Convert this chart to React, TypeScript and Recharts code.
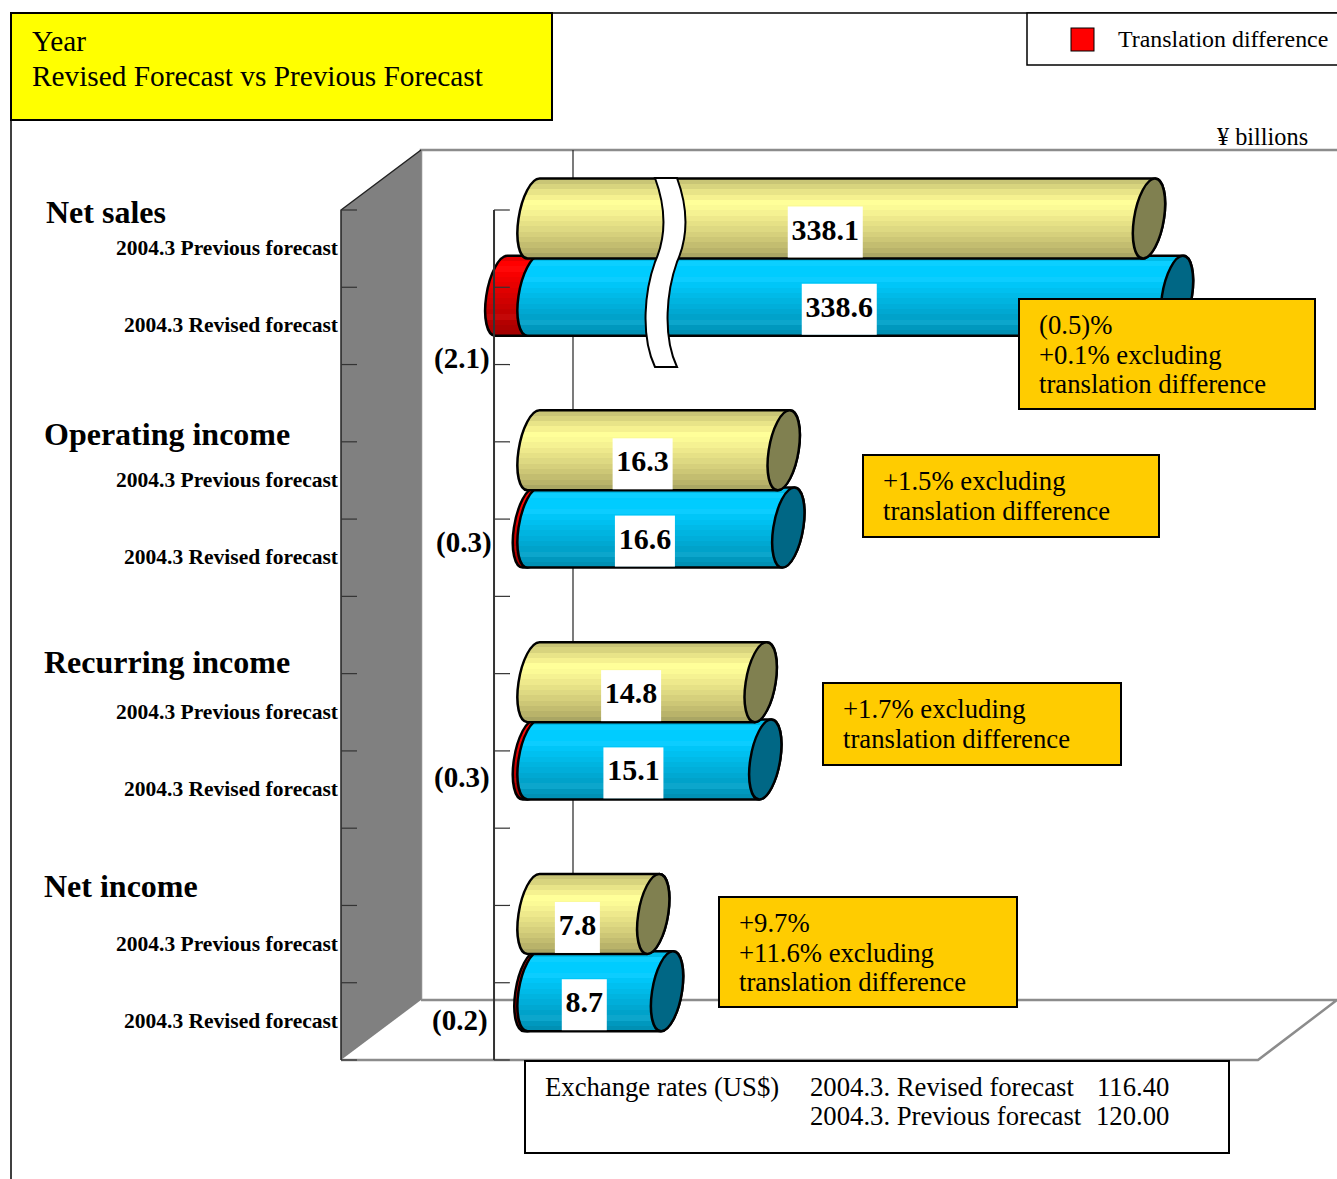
import { Bar, BarChart, LabelList, ReferenceLine, XAxis, YAxis } from "recharts";

const SERIF = '"Liberation Serif", "Times New Roman", serif';

const rowLabels = [
    "2004.3 Previous forecast",
    "2004.3 Revised forecast",
    "",
    "2004.3 Previous forecast",
    "2004.3 Revised forecast",
    "",
    "2004.3 Previous forecast",
    "2004.3 Revised forecast",
    "",
    "2004.3 Previous forecast",
    "2004.3 Revised forecast",
];
const previousForecast = [338.1, null, null, 16.3, null, null, 14.8, null, null, 7.8, null];
const revisedForecast = [null, 338.6, null, null, 16.6, null, null, 15.1, null, null, 8.7];
const translationDifference = [null, -2.1, null, null, -0.3, null, null, -0.3, null, null, -0.2];

const groupTitles = ["Net sales", "Operating income", "Recurring income", "Net income"];
const translationTexts = ["(2.1)", "(0.3)", "(0.3)", "(0.2)"];
const noteLines = [
    ["(0.5)%", "+0.1% excluding", "translation difference"],
    ["+1.5% excluding", "translation difference"],
    ["+1.7% excluding", "translation difference"],
    ["+9.7%", "+11.6% excluding", "translation difference"],
];

const chartData = rowLabels.map((label, i) => ({
    label,
    previous: previousForecast[i],
    revised: revisedForecast[i],
    translation: translationDifference[i],
}));

// layout of the things around the plot
const titlePos = [[46, 223], [44, 445], [44, 673], [44, 897]];
const translationPos = [[434, 368], [436, 552], [434, 787], [432, 1030]];
const noteBoxes = [
    [1019, 299, 296, 110],
    [863, 455, 296, 82],
    [823, 683, 298, 82],
    [719, 897, 298, 110],
];

// colour bands of the cylinders, top to bottom
const yellowBands = [
    "#c9c576", "#d8d47e", "#e8e488", "#f5f190", "#ffff99", "#fbfa96", "#f5f292", "#eee98c",
    "#e6e186", "#ded982", "#d6d07c", "#cdc776", "#c3bd70", "#b9b36a", "#aaa664",
];
const blueBands = [
    "#00bbe8", "#0ccfff", "#00ccff", "#00ccff", "#0ccdff", "#00c6f8", "#00c0f0", "#00bae8",
    "#00b4e0", "#00aeda", "#00a8d2", "#00a2ca", "#0ca6cc", "#0098be", "#0090b4",
];
const redBands = [
    "#e60000", "#ff0000", "#ff0808", "#f80000", "#f00000", "#e80000", "#e00000", "#d80000",
    "#d00000", "#c80000", "#c00000", "#c40808", "#b40000", "#ac0000", "#a40000",
];

// the cylinders stand in the middle of the depth of the box
const DEPTH_X = 39.5;
const DEPTH_Y = -30;
const RX = 15;
const RY = 40;
const SKEW = -0.15;

const PLOT_LEFT = 341;
const PLOT_WIDTH = 917;
const BAND = 850 / 11;
const ZERO_X = 494;

// broken value axis: normal up to the break, then squeezed
const BREAK_VALUES = [-9.97, 20, 338.1, 338.6, 350];
const BREAK_PIXELS = [0, 460, 768.5, 796.5, 917];

function brokenScale() {
    let dom = [BREAK_VALUES[0], BREAK_VALUES[4]];
    let rng = [0, 1];
    const scale: any = (v: number) => {
        let i = 0;
        while (i < BREAK_VALUES.length - 2 && v > BREAK_VALUES[i + 1]) i++;
        const t = (v - BREAK_VALUES[i]) / (BREAK_VALUES[i + 1] - BREAK_VALUES[i]);
        const px = BREAK_PIXELS[i] + t * (BREAK_PIXELS[i + 1] - BREAK_PIXELS[i]);
        return rng[0] + ((rng[1] - rng[0]) * px) / PLOT_WIDTH;
    };
    scale.domain = (d?: number[]) => {
        if (!d) return dom;
        dom = d;
        return scale;
    };
    scale.range = (r?: number[]) => {
        if (!r) return rng;
        rng = r;
        return scale;
    };
    scale.copy = () => brokenScale();
    scale.ticks = () => [];
    return scale;
}

const BandGradient = ({ id, bands }: { id: string; bands: string[] }) => (
    <linearGradient id={id} x1="0" y1="0" x2="0" y2="1">
        {bands.flatMap((c, i) => [
            <stop key={`${i}a`} offset={i / bands.length} stopColor={c} />,
            <stop key={`${i}b`} offset={(i + 1) / bands.length} stopColor={c} />,
        ])}
    </linearGradient>
);

const Cylinder = ({ x, y, width, height, fill, cap }: any) => {
    if (!width) return null;
    const x0 = Math.min(x, x + width) + DEPTH_X;
    const x1 = x0 + Math.abs(width);
    const cy = y + height / 2 + DEPTH_Y;
    const body = `M${x0},${-RY} L${x1},${-RY} A${RX},${RY} 0 0 1 ${x1},${RY} L${x0},${RY} A${RX},${RY} 0 0 1 ${x0},${-RY} Z`;
    return (
        <g transform={`matrix(1 0 ${SKEW} 1 0 ${cy})`} stroke="#000" strokeWidth={2.5}>
            <path d={body} fill={fill} />
            {cap && <ellipse cx={x1} cy={0} rx={RX} ry={RY} fill={cap} />}
        </g>
    );
};

const ValueLabel = ({ x, y, width, height, value }: any) => {
    if (value == null) return null;
    const text = value.toFixed(1);
    const cx = x + width / 2 + DEPTH_X - 16;
    const cy = y + height / 2 + DEPTH_Y + 14;
    const w = (text.length - 1) * 15 + 7.5 + 7.5;
    return (
        <g>
            <rect x={cx - w / 2} y={cy - 26} width={w} height={51} fill="#fff" />
            <text
                x={cx}
                y={cy + 7}
                textAnchor="middle"
                fontFamily={SERIF}
                fontWeight="bold"
                fontSize={30}
                fill="#000"
            >
                {text}
            </text>
        </g>
    );
};

// row label in the middle of the band, tick marks on the band edges
const RowTick = ({ y, payload, index }: any) => {
    const top = y - BAND / 2;
    const edges = index === rowLabels.length - 1 ? [top, top + BAND] : [top];
    return (
        <g>
            <text
                x={338}
                y={y + 6.5}
                textAnchor="end"
                fontFamily={SERIF}
                fontWeight="bold"
                fontSize={21.5}
                fill="#000"
            >
                {payload.value}
            </text>
            {edges.map((e) => (
                <g key={e} stroke="#333" strokeWidth={1.2}>
                    <line x1={PLOT_LEFT} x2={PLOT_LEFT + 16} y1={e} y2={e} />
                    <line x1={ZERO_X} x2={ZERO_X + 16} y1={e} y2={e} />
                </g>
            ))}
        </g>
    );
};

const Backdrop = () => (
    <svg width={1337} height={1179} style={{ position: "absolute", left: 0, top: 0 }}>
        <line x1={11} y1={13} x2={11} y2={1179} stroke="#000" strokeWidth={1.5} />
        <line x1={552} y1={13} x2={1337} y2={13} stroke="#000" strokeWidth={1.5} />
        <path d="M421,1000 L421,150 L1337,150" fill="none" stroke="#8c8c8c" strokeWidth={2.5} />
        <path d="M421,1000 L1337,1000 L1258,1060 L341,1060" fill="none" stroke="#8c8c8c" strokeWidth={2.5} />
        <path d="M341,210 L421,150 L421,1000 L341,1060 Z" fill="#808080" />
        <path d="M421,150 L341,210 L341,1060" fill="none" stroke="#222" strokeWidth={1.5} />
        <line x1={573} y1={150} x2={573} y2={1000} stroke="#222" strokeWidth={1.2} />
    </svg>
);

const Overlay = () => (
    <svg
        width={1337}
        height={1179}
        fontFamily={SERIF}
        fill="#000"
        style={{ position: "absolute", left: 0, top: 0 }}
    >
        <path
            d="M655,178 C665,205 667,235 655,262 C645,290 640,335 655,367 L677,367 C662,335 667,290 677,262 C689,235 687,205 677,178 Z"
            fill="#fff"
            stroke="#000"
            strokeWidth={2}
        />
        <rect x={11} y={13} width={541} height={107} fill="#ffff00" stroke="#000" strokeWidth={2} />
        <text x={32} y={51} fontSize={29.3}>Year</text>
        <text x={32} y={86} fontSize={29.3}>Revised Forecast vs Previous Forecast</text>

        <rect x={1027} y={13} width={320} height={52} fill="#fff" stroke="#000" strokeWidth={1.5} />
        <rect x={1071} y={28} width={23} height={23} fill="#ff0000" stroke="#000" strokeWidth={1} />
        <text x={1118} y={47} fontSize={23.9}>Translation difference</text>
        <text x={1217} y={145} fontSize={24.3}>¥ billions</text>

        {groupTitles.map((t, i) => (
            <text key={i} x={titlePos[i][0]} y={titlePos[i][1]} fontSize={32} fontWeight="bold">
                {t}
            </text>
        ))}
        {translationTexts.map((t, i) => (
            <text key={i} x={translationPos[i][0]} y={translationPos[i][1]} fontSize={29} fontWeight="bold">
                {t}
            </text>
        ))}
        {noteLines.map((lines, i) => {
            const [bx, by, bw, bh] = noteBoxes[i];
            return (
                <g key={i}>
                    <rect x={bx} y={by} width={bw} height={bh} fill="#ffcc00" stroke="#000" strokeWidth={2} />
                    {lines.map((line, j) => (
                        <text key={j} x={bx + 20} y={by + 35 + j * 29.5} fontSize={26.7}>
                            {line}
                        </text>
                    ))}
                </g>
            );
        })}

        <rect x={525} y={1061} width={704} height={92} fill="#fff" stroke="#000" strokeWidth={2} />
        <text x={545} y={1096} fontSize={26.7}>Exchange rates (US$)</text>
        <text x={810} y={1096} fontSize={26.7}>2004.3. Revised forecast</text>
        <text x={1097} y={1096} fontSize={26.7}>116.40</text>
        <text x={810} y={1125} fontSize={26.7}>2004.3. Previous forecast</text>
        <text x={1096} y={1125} fontSize={26.7}>120.00</text>
    </svg>
);

const App = () => {
    return (
        <div style={{ position: "absolute", left: 0, top: 0, width: 1337, height: 1179, overflow: "hidden", background: "#fff" }}>
            <Backdrop />
            <div style={{ position: "absolute", left: 0, top: 0 }}>
                <BarChart
                    width={1337}
                    height={1179}
                    data={chartData}
                    layout="vertical"
                    stackOffset="sign"
                    barCategoryGap={0}
                    margin={{ top: 210, right: 79, bottom: 119, left: 0 }}
                >
                    <defs>
                        <BandGradient id="yellowBody" bands={yellowBands} />
                        <BandGradient id="blueBody" bands={blueBands} />
                        <BandGradient id="redBody" bands={redBands} />
                    </defs>
                    <XAxis
                        type="number"
                        hide
                        domain={[BREAK_VALUES[0], BREAK_VALUES[4]]}
                        scale={brokenScale()}
                        allowDataOverflow
                    />
                    <YAxis
                        type="category"
                        dataKey="label"
                        width={341}
                        interval={0}
                        axisLine={false}
                        tickLine={false}
                        tick={<RowTick />}
                    />
                    <ReferenceLine x={0} stroke="#333" strokeWidth={2} />
                    <Bar
                        dataKey="translation"
                        stackId="row"
                        isAnimationActive={false}
                        shape={<Cylinder fill="url(#redBody)" />}
                    />
                    <Bar
                        dataKey="revised"
                        stackId="row"
                        isAnimationActive={false}
                        shape={<Cylinder fill="url(#blueBody)" cap="#006785" />}
                    >
                        <LabelList dataKey="revised" content={<ValueLabel />} />
                    </Bar>
                    <Bar
                        dataKey="previous"
                        stackId="row"
                        isAnimationActive={false}
                        shape={<Cylinder fill="url(#yellowBody)" cap="#808050" />}
                    >
                        <LabelList dataKey="previous" content={<ValueLabel />} />
                    </Bar>
                </BarChart>
            </div>
            <Overlay />
        </div>
    );
};

export default App;
